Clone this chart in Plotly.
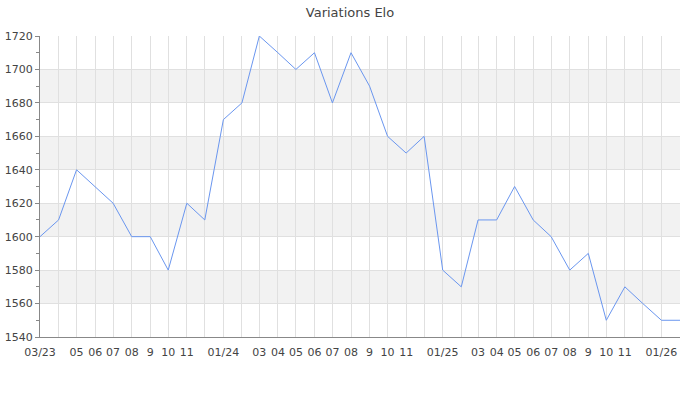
import plotly.graph_objects as go

months = [
    "2023-03-01", "2023-04-01", "2023-05-01", "2023-06-01", "2023-07-01", "2023-08-01",
    "2023-09-01", "2023-10-01", "2023-11-01", "2023-12-01",
    "2024-01-01", "2024-02-01", "2024-03-01", "2024-04-01", "2024-05-01", "2024-06-01",
    "2024-07-01", "2024-08-01", "2024-09-01", "2024-10-01", "2024-11-01", "2024-12-01",
    "2025-01-01", "2025-02-01", "2025-03-01", "2025-04-01", "2025-05-01", "2025-06-01",
    "2025-07-01", "2025-08-01", "2025-09-01", "2025-10-01", "2025-11-01", "2025-12-01",
    "2026-01-01", "2026-02-01",
]
elo = [
    1600, 1610, 1640, 1630, 1620, 1600, 1600, 1580, 1620, 1610,
    1670, 1680, 1720, 1710, 1700, 1710, 1680, 1710, 1690, 1660, 1650, 1660,
    1580, 1570, 1610, 1610, 1630, 1610, 1600, 1580, 1590, 1550, 1570, 1560,
    1550, 1550,
]
tick_labels = [
    "03/23", "", "05", "06", "07", "08", "9", "10", "11", "",
    "01/24", "", "03", "04", "05", "06", "07", "08", "9", "10", "11", "",
    "01/25", "", "03", "04", "05", "06", "07", "08", "9", "10", "11", "",
    "01/26", "",
]
y_ticks = [1540, 1560, 1580, 1600, 1620, 1640, 1660, 1680, 1700, 1720]
band_ranges = [(1560, 1580), (1600, 1620), (1640, 1660), (1680, 1700)]

fig = go.Figure()
fig.add_trace(go.Scatter(
    x=months, y=elo, mode="lines",
    line=dict(color="#6a96ef", width=1),
    hoverinfo="x+y",
))

shapes = []
for lo, hi in band_ranges:
    shapes.append(dict(type="rect", xref="paper", yref="y", x0=0, x1=1, y0=lo, y1=hi,
                       fillcolor="#f2f2f2", line=dict(width=0), layer="below"))

fig.update_layout(
    width=700, height=400,
    margin=dict(l=40, r=20, t=36, b=63, autoexpand=False),
    paper_bgcolor="white", plot_bgcolor="white",
    font=dict(family="DejaVu Sans", size=11, color="#444"),
    title=dict(text="Variations Elo", x=0.5, xanchor="center", y=0.97, yanchor="middle",
               yref="container", automargin=False,
               font=dict(family="DejaVu Sans", size=13, color="#444")),
    showlegend=False,
    shapes=shapes,
    xaxis=dict(
        type="date", range=[months[0], months[-1]], automargin=False,
        tickmode="array", tickvals=months, ticktext=tick_labels,
        showgrid=True, gridcolor="#e0e0e0", gridwidth=1,
        showline=True, linecolor="#888", linewidth=1,
        ticks="", ticklabelstandoff=5,
        tickfont=dict(size=11, color="#444"),
        zeroline=False,
    ),
    yaxis=dict(
        range=[1540, 1720], tickmode="array", tickvals=y_ticks, automargin=False,
        showgrid=True, gridcolor="#e0e0e0", gridwidth=1,
        showline=True, linecolor="#888", linewidth=1,
        ticks="outside", ticklen=4, tickcolor="#888",
        minor=dict(dtick=10, ticks="outside", ticklen=3, tickcolor="#888", showgrid=False),
        tickfont=dict(size=11, color="#444"),
        zeroline=False,
    ),
)

fig.write_html("out.html", config={"displayModeBar": False},
               post_script="document.body.style.margin='0';")
